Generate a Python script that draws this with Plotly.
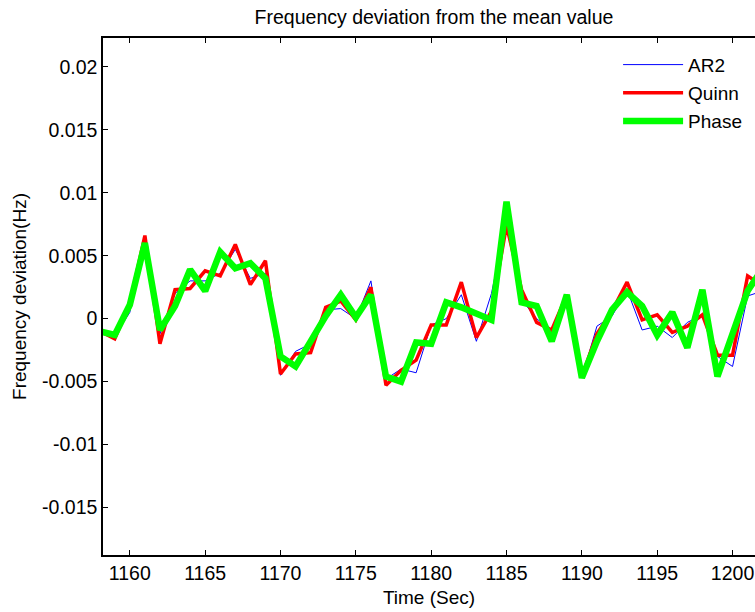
import plotly.graph_objects as go

# Time axis (seconds)
time_sec = list(range(1158, 1203))

# Frequency deviation series (Hz)
ar2 = [-0.0010, -0.0014, 0.0005, 0.0063, -0.0012, 0.0020, 0.0030, 0.0030, 0.0036, 0.0055,
       0.0032, 0.0036, -0.0045, -0.0026, -0.0020, 0.0007, 0.0008, 0.0000, 0.0030, -0.0048,
       -0.0040, -0.0043, -0.0005, 0.0000, 0.0019, -0.0018, 0.0020, 0.0078, 0.0015, 0.0000,
       -0.0010, 0.0019, -0.0047, -0.0006, 0.0002, 0.0023, -0.0009, -0.0006, -0.0015, -0.0003,
       0.0003, -0.0030, -0.0038, 0.0018, 0.0022]
quinn = [-0.0010, -0.0016, 0.0012, 0.0066, -0.0020, 0.0023, 0.0024, 0.0038, 0.0034, 0.0059,
         0.0027, 0.0046, -0.0044, -0.0028, -0.0027, 0.0009, 0.0014, -0.0001, 0.0025, -0.0053,
         -0.0041, -0.0033, -0.0005, -0.0005, 0.0029, -0.0015, 0.0006, 0.0074, 0.0023, -0.0003,
         -0.0009, 0.0019, -0.0046, -0.0012, 0.0006, 0.0029, -0.0001, 0.0003, -0.0011, -0.0006,
         0.0003, -0.0029, -0.0029, 0.0034, 0.0026]
phase = [-0.0010, -0.0013, 0.0011, 0.0060, -0.0009, 0.0010, 0.0039, 0.0022, 0.0053, 0.0040,
         0.0044, 0.0032, -0.0030, -0.0038, -0.0018, 0.0002, 0.0019, 0.0001, 0.0019, -0.0046,
         -0.0050, -0.0019, -0.0020, 0.0013, 0.0009, 0.0004, -0.0001, 0.0093, 0.0013, 0.0010,
         -0.0018, 0.0019, -0.0047, -0.0018, 0.0007, 0.0021, 0.0010, -0.0013, 0.0005, -0.0023,
         0.0023, -0.0046, -0.0010, 0.0022, 0.0040]

series_names = ["AR2", "Quinn", "Phase"]

x_tick_vals = [1160, 1165, 1170, 1175, 1180, 1185, 1190, 1195, 1200]
x_tick_text = ["1160", "1165", "1170", "1175", "1180", "1185", "1190", "1195", "1200"]
y_tick_vals = [-0.015, -0.01, -0.005, 0, 0.005, 0.01, 0.015, 0.02]
y_tick_text = ["-0.015", "-0.01", "-0.005", "0", "0.005", "0.01", "0.015", "0.02"]

FONT = "Liberation Sans, Arial, Helvetica, sans-serif"

fig = go.Figure()
fig.add_trace(go.Scatter(x=time_sec, y=ar2, mode="lines", name=series_names[0],
                         legendgroup="a", line=dict(color="#0000FF", width=1)))
fig.add_trace(go.Scatter(x=time_sec, y=quinn, mode="lines", name=series_names[1],
                         legendgroup="b", line=dict(color="#FF0000", width=3.5)))
fig.add_trace(go.Scatter(x=time_sec, y=phase, mode="lines", name=series_names[2],
                         legendgroup="c", line=dict(color="#00FF00", width=6.5)))

fig.update_layout(
    width=755, height=612,
    margin=dict(l=102.5, r=0, t=38, b=57),
    paper_bgcolor="white", plot_bgcolor="white",
    font=dict(family=FONT, size=19.5, color="black"),
    title=dict(text="Frequency deviation from the mean value", x=434/755, xref="container",
               xanchor="center", y=1 - 17/612, yref="container", yanchor="middle",
               font=dict(size=19.5)),
    showlegend=True,
    legend=dict(x=0.79, y=0.985, xanchor="left", yanchor="top", bgcolor="rgba(0,0,0,0)",
                borderwidth=0, tracegroupgap=0.5, itemwidth=60, font=dict(size=19)),
    xaxis=dict(range=[1158.22, 1201.49], tickvals=x_tick_vals, ticktext=x_tick_text,
               ticks="inside", ticklen=5, tickwidth=1, tickcolor="black",
               showline=True, linecolor="black", linewidth=1.5, mirror="ticks",
               showgrid=False, zeroline=False, tickfont=dict(size=19.5),
               title=dict(text="Time (Sec)", standoff=8, font=dict(size=19))),
    yaxis=dict(range=[-0.01878, 0.0223], tickvals=y_tick_vals, ticktext=y_tick_text,
               ticks="inside", ticklen=5, tickwidth=1, tickcolor="black",
               showline=True, linecolor="black", linewidth=1.5, mirror=False,
               showgrid=False, zeroline=False, tickfont=dict(size=19.5),
               title=dict(text="Frequency deviation(Hz)", standoff=10, font=dict(size=19))),
)

fig.write_html("out.html", config={"displayModeBar": False},
               post_script="document.body.style.margin='0px';")
